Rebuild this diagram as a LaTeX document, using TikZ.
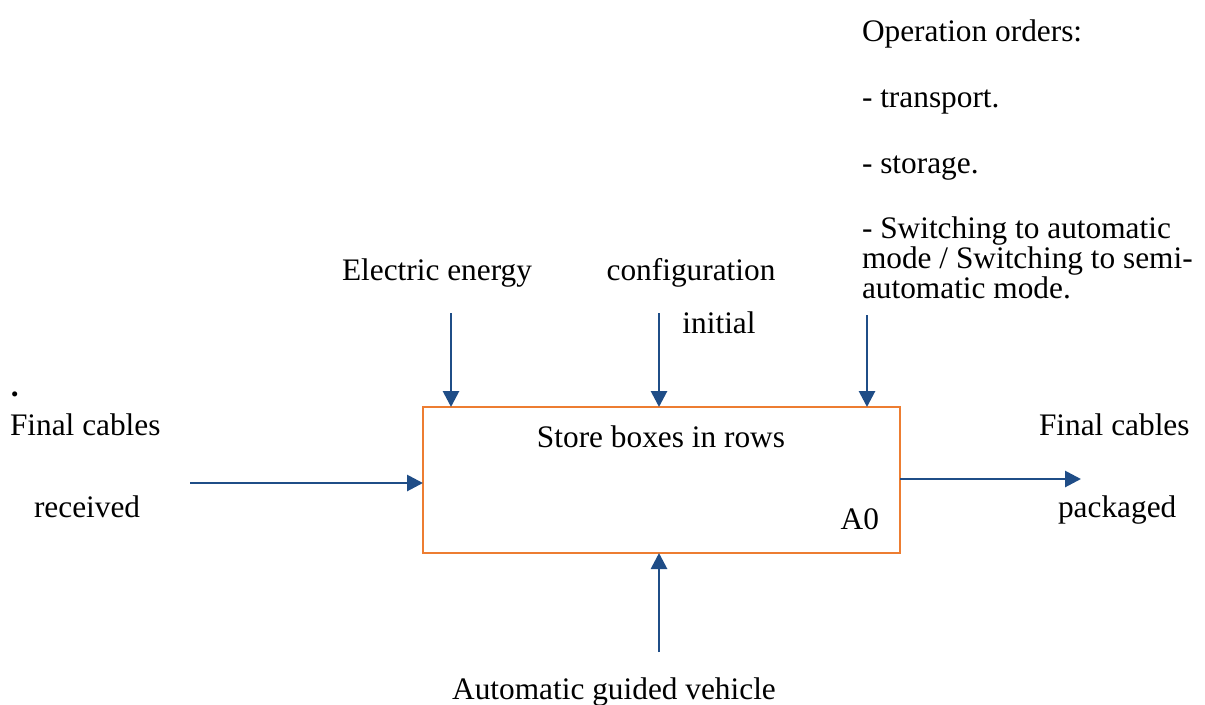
\documentclass[tikz,border=0pt]{standalone}
\usepackage{fontspec}
\setmainfont{Liberation Serif}
\usetikzlibrary{arrows.meta}
\definecolor{flowblue}{RGB}{31,77,135}
\definecolor{boxorange}{RGB}{237,125,49}
\begin{document}
\begin{tikzpicture}[x=0.75pt,y=-0.75pt,
  every node/.style={inner sep=0pt,outer sep=0pt,font=\fontsize{23.5}{22.5}\selectfont},
  flow/.style={draw=flowblue,line width=2.1pt,-{Triangle[length=12pt,width=12pt]}},
  funcbox/.style={draw=boxorange,line width=1.5pt,minimum width=477*0.75pt,minimum height=146*0.75pt},
  lbl/.style={anchor=base west}]
\useasboundingbox (0,0) rectangle (1205,704);

% activity box
\node[funcbox] (box) at (661.5,480) {};
\node[anchor=base] (title) at (661,447) {Store boxes in rows};
\node[anchor=base east] (code) at (879,529) {A0};

% controls
\coordinate (c1) at (451,313);
\coordinate (c2) at (659,313);
\coordinate (c3) at (867,315);
\draw[flow] (c1) -- (c1 |- box.north);
\draw[flow] (c2) -- (c2 |- box.north);
\draw[flow] (c3) -- (c3 |- box.north);
\node[anchor=base] (energy) at (437,280) {Electric energy};
\node[anchor=base] (config) at (691,280) {configuration};
\node[anchor=base] (init) at (719,333) {initial};

\node[lbl] (op0) at (862,41) {Operation orders:};
\node[lbl] (op1) at (862,107) {- transport.};
\node[lbl] (op2) at (862,173) {- storage.};
\node[lbl,align=left,anchor=north west] (op3) at (862,217)
  {- Switching to automatic\\mode / Switching to semi-\\automatic mode.};

% input
\coordinate (in0) at (190,483);
\draw[flow] (in0) -- (in0 -| box.west);
\node[lbl,font=\fontsize{23.5}{22.5}\bfseries] (dot) at (11,396) {.};
\node[lbl] (inA) at (10,435) {Final cables};
\node[lbl] (inB) at (34,517) {received};

% output
\coordinate (out0) at (1081,479);
\draw[flow] (out0 -| box.east) -- (out0);
\node[lbl] (outA) at (1039,435) {Final cables};
\node[lbl] (outB) at (1058,517) {packaged};

% mechanism
\coordinate (m0) at (659,652);
\draw[flow] (m0) -- (m0 |- box.south);
\node[anchor=base] (agv) at (614,699) {Automatic guided vehicle};
\end{tikzpicture}
\end{document}
